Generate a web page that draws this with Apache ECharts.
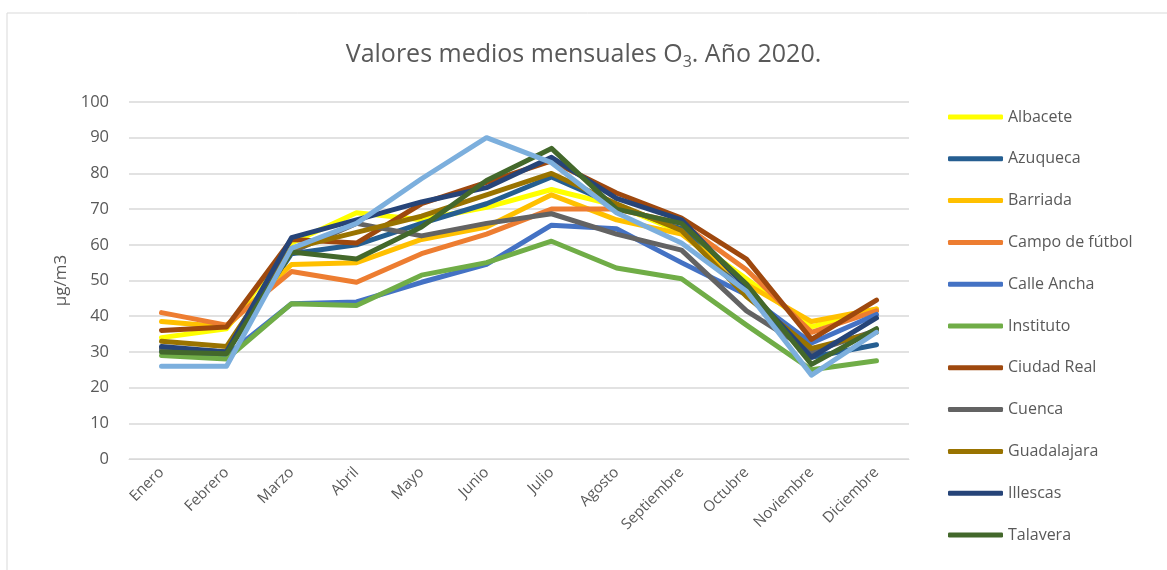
<!DOCTYPE html>
<html>
<head>
<meta charset="utf-8">
<script src="https://cdn.jsdelivr.net/npm/echarts@6/dist/echarts.min.js"></script>
<style>
  html, body { margin: 0; padding: 0; background: #fff; }
  #chart1 { width: 1167px; height: 570px; }
</style>
</head>
<body>
<div id="chart1"></div>
<script>
// meses
var meses = ['Enero', 'Febrero', 'Marzo', 'Abril', 'Mayo', 'Junio', 'Julio', 'Agosto', 'Septiembre', 'Octubre', 'Noviembre', 'Diciembre'];

// valores medios mensuales por estacion (µg/m3)
var albacete    = [34, 36.5, 60.5, 69, 67, 70.5, 75.5, 71, 63.5, 50.5, 37, 42];
var azuqueca    = [31, 30, 57.5, 60, 66, 71.5, 79, 71, 64.5, 46, 28.5, 32];
var barriada    = [38.5, 37, 54.5, 55, 61.5, 65, 74, 67, 63, 49, 38.5, 42];
var campoFutbol = [41, 37.5, 52.5, 49.5, 57.5, 63, 70, 70, 66, 53, 35.5, 41.5];
var calleAncha  = [30.5, 29, 43.5, 44, 49.5, 54.5, 65.5, 64.5, 55, 46, 32.5, 40.5];
var instituto   = [29, 28, 43.5, 43, 51.5, 55, 61, 53.5, 50.5, 37.5, 25, 27.5];
var ciudadReal  = [36, 37, 61.5, 60.5, 71.5, 77.5, 83.5, 74.5, 67.5, 56, 33.5, 44.5];
var cuenca      = [31, 30, 58, 66, 62.5, 66, 68.7, 63, 58.5, 41.5, 30, 36];
var guadalajara = [33, 31.5, 59, 63.5, 68, 74, 80, 71.5, 64, 45.5, 31, 35.5];
var illescas    = [31.5, 30, 62, 67, 72, 76, 84.5, 73, 67, 48, 28.5, 39.5];
var talavera    = [30, 29.5, 58, 56, 65, 78, 87, 70, 66, 49, 26.5, 36.5];
var toledo      = [26, 26, 59, 66, 78.5, 90, 83, 69, 60.5, 47, 23.5, 35.5];

var nombres = ['Albacete', 'Azuqueca', 'Barriada', 'Campo de fútbol', 'Calle Ancha', 'Instituto',
               'Ciudad Real', 'Cuenca', 'Guadalajara', 'Illescas', 'Talavera', 'Toledo'];
var valores = [albacete, azuqueca, barriada, campoFutbol, calleAncha, instituto,
               ciudadReal, cuenca, guadalajara, illescas, talavera, toledo];
var colores = ['#FFFF00', '#255E91', '#FFC000', '#ED7D31', '#4472C4', '#70AD47',
               '#9E480E', '#636363', '#997300', '#264478', '#43682B', '#7CAFDD'];

var fuente = 'Open Sans';
var gris = '#595959';

function drawChart() {
    var myChart = echarts.init(document.getElementById('chart1'));

    var series = [];
    for (var i = 0; i < nombres.length; i++) {
        series.push({
            name: nombres[i],
            type: 'line',
            data: valores[i],
            symbol: 'none',
            lineStyle: { width: 5, color: colores[i], cap: 'round', join: 'round' },
            itemStyle: { color: colores[i] }
        });
    }

    var option = {
        animation: false,
        backgroundColor: '#fff',
        graphic: [{
            type: 'rect',
            shape: { x: 7, y: 13, width: 1200, height: 600 },
            style: { fill: 'none', stroke: '#d9d9d9', lineWidth: 1 }
        }],
        title: {
            text: '{t|Valores medios mensuales O}{s|3}{t|. Año 2020.}',
            left: 'center',
            top: 35,
            textStyle: {
                fontWeight: 'normal',
                rich: {
                    t: { fontFamily: fuente, fontSize: 25, fontWeight: 'normal', color: gris },
                    s: { fontFamily: fuente, fontSize: 16, fontWeight: 'normal', color: gris, padding: [14, 0, 0, 0] }
                }
            }
        },
        legend: {
            orient: 'vertical',
            left: 948,
            top: 107,
            padding: 0,
            itemWidth: 55,
            itemHeight: 5,
            itemGap: 21.8,
            icon: 'roundRect',
            // la leyenda del original queda cortada tras Talavera
            data: nombres.slice(0, 11),
            textStyle: { fontFamily: fuente, fontSize: 16, color: gris, lineHeight: 20 }
        },
        grid: { left: 129, right: 258, top: 102, bottom: 111 },
        xAxis: {
            type: 'category',
            data: meses,
            boundaryGap: true,
            axisLine: { show: true, lineStyle: { color: '#d9d9d9', width: 1 } },
            axisTick: { show: false },
            axisLabel: { rotate: 45, fontFamily: fuente, fontSize: 15, color: gris, margin: 11, interval: 0 }
        },
        yAxis: {
            type: 'value',
            min: 0,
            max: 100,
            interval: 10,
            name: 'µg/m3',
            nameLocation: 'middle',
            nameGap: 58,
            nameTextStyle: { fontFamily: fuente, fontSize: 17, color: gris },
            axisLine: { show: false },
            axisTick: { show: false },
            axisLabel: { fontFamily: fuente, fontSize: 16.5, color: gris, margin: 20 },
            splitLine: { lineStyle: { color: '#d9d9d9', width: 1.5 } }
        },
        series: series
    };

    myChart.setOption(option);
}

drawChart();
</script>
</body>
</html>
